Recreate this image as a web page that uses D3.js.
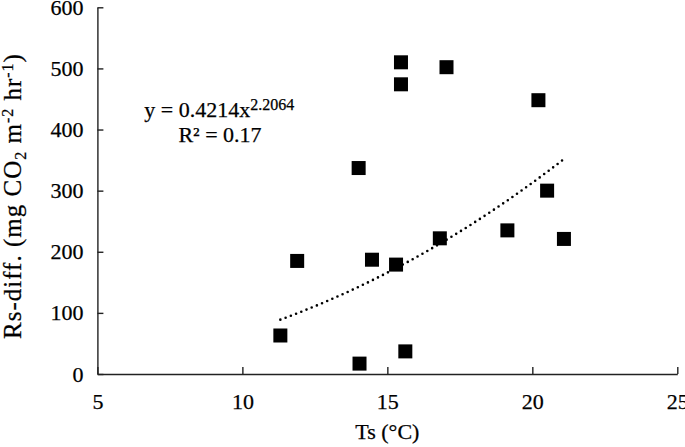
<!DOCTYPE html>
<html>
<head>
<meta charset="utf-8">
<script src="https://cdn.jsdelivr.net/npm/d3@7"></script>
<style>
  body { margin: 0; background: #fff; }
  text { font-family: "Liberation Serif", "Times New Roman", serif; fill: #000; stroke: #000; stroke-width: 0.25px; }
</style>
</head>
<body>
<div id="chart"></div>
<script>
// data
var ts = [11.31, 11.89, 14.01, 14.04, 14.47, 15.30, 15.47, 15.47, 15.62, 16.81, 17.04, 19.14, 20.21, 20.51, 21.09];
var rs = [63, 185, 337, 17, 187, 179, 510, 474, 37, 222, 502, 235, 448, 300, 221];
var xTicks = [5, 10, 15, 20, 25];
var yTicks = [0, 100, 200, 300, 400, 500, 600];

// power trendline as printed on the chart
var trendA = 0.4214, trendB = 2.2064, trendR2 = "0.17";

var margin = {top: 7.3, right: 7.7, bottom: 73, left: 97.4},
    width = 685 - margin.left - margin.right,
    height = 447 - margin.top - margin.bottom;

var svg = d3.select("#chart")
  .append("svg")
    .attr("width", 685)
    .attr("height", 447)
  .append("g")
    .attr("transform", "translate(" + margin.left + "," + margin.top + ")");

var x = d3.scaleLinear().domain([5, 25]).range([0, width]);
var y = d3.scaleLinear().domain([0, 600]).range([height, 0]);

// axes, ticks pointing inward
var xAxis = svg.append("g")
    .attr("transform", "translate(0," + height + ")")
    .call(d3.axisBottom(x).tickValues(xTicks).tickSize(-7).tickPadding(25).tickSizeOuter(0));
var yAxis = svg.append("g")
    .call(d3.axisLeft(y).tickValues(yTicks).tickSize(-6).tickPadding(14).tickSizeOuter(0));

[xAxis, yAxis].forEach(function(a) {
  a.select(".domain").attr("stroke", "#222").attr("stroke-width", 1.4);
  a.selectAll(".tick line").attr("stroke", "#222").attr("stroke-width", 1.4);
  a.selectAll(".tick text")
    .style("font-family", '"Liberation Serif", serif')
    .style("font-size", "22px")
    .attr("fill", "#000");
});
xAxis.selectAll(".tick text").attr("dy", "0.35em").attr("y", 27);

// trendline (dotted)
var xMin = d3.min(ts), xMax = d3.max(ts);
var trend = d3.range(0, 41).map(function(i) {
  var xv = xMin + (xMax - xMin) * i / 40;
  return [xv, trendA * Math.pow(xv, trendB)];
});
svg.append("path")
  .datum(trend)
  .attr("d", d3.line()
    .x(function(d) { return x(d[0]); })
    .y(function(d) { return y(d[1]); }))
  .attr("fill", "none")
  .attr("stroke", "#000")
  .attr("stroke-width", 2.6)
  .attr("stroke-linecap", "round")
  .attr("stroke-dasharray", "0 5.6");

// points
var sq = 14;
svg.selectAll("rect.pt")
  .data(ts)
  .enter()
  .append("rect")
    .attr("class", "pt")
    .attr("x", function(d) { return x(d) - sq / 2; })
    .attr("y", function(d, i) { return y(rs[i]) - sq / 2; })
    .attr("width", sq)
    .attr("height", sq)
    .attr("fill", "#000");

// equation label
var eq = svg.append("text")
  .attr("x", 219.3 - margin.left)
  .attr("y", 116.7 - margin.top)
  .attr("text-anchor", "middle")
  .style("font-size", "22px");
eq.append("tspan").text("y = " + trendA + "x");
eq.append("tspan").attr("dy", -7).style("font-size", "16px").text(trendB);

svg.append("text")
  .attr("x", 220 - margin.left)
  .attr("y", 141.7 - margin.top)
  .attr("text-anchor", "middle")
  .style("font-size", "22px")
  .text("R² = " + trendR2);

// axis titles
svg.append("text")
  .attr("x", width / 2)
  .attr("y", 439.5 - margin.top)
  .attr("text-anchor", "middle")
  .style("font-size", "22px")
  .text("Ts (°C)");

var yt = svg.append("text")
  .attr("transform", "rotate(-90)")
  .attr("x", -(196 - margin.top))
  .attr("y", 21 - margin.left)
  .attr("text-anchor", "middle")
  .style("font-size", "25px")
  .style("letter-spacing", "1px");
yt.append("tspan").text("Rs-diff. (mg CO");
yt.append("tspan").attr("dy", 5).style("font-size", "16px").text("2");
yt.append("tspan").attr("dy", -5).text(" m");
yt.append("tspan").attr("dy", -8).style("font-size", "16px").text("-2");
yt.append("tspan").attr("dy", 8).text(" hr");
yt.append("tspan").attr("dy", -8).style("font-size", "16px").text("-1");
yt.append("tspan").attr("dy", 8).text(")");
</script>
</body>
</html>
